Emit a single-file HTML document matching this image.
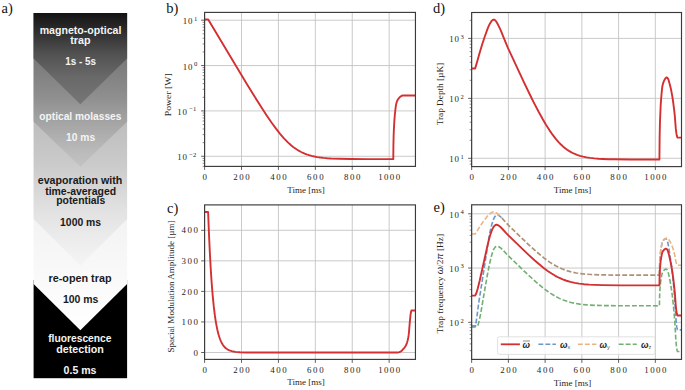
<!DOCTYPE html>
<html><head><meta charset="utf-8"><style>html,body{margin:0;padding:0;background:#fff;overflow:hidden}svg{display:block}</style></head><body>
<svg width="685" height="390" viewBox="0 0 685 390">
<rect width="685" height="390" fill="#fff"/>
<defs>
<clipPath id="clipb"><rect x="204.6" y="12.4" width="210.85" height="154.00"/></clipPath>
<clipPath id="clipc"><rect x="204.6" y="204.9" width="210.85" height="154.50"/></clipPath>
<clipPath id="clipd"><rect x="471.65" y="12.5" width="209.85" height="154.10"/></clipPath>
<clipPath id="clipe"><rect x="471.65" y="204.8" width="209.85" height="154.60"/></clipPath>
</defs>
<defs>
<linearGradient id="g1" x1="0" y1="13" x2="0" y2="104.3" gradientUnits="userSpaceOnUse"><stop offset="0.000" stop-color="#121212"/><stop offset="0.066" stop-color="#1c1c1c"/><stop offset="0.219" stop-color="#303030"/><stop offset="0.438" stop-color="#505050"/><stop offset="0.690" stop-color="#686868"/><stop offset="0.898" stop-color="#727272"/><stop offset="1.000" stop-color="#757575"/></linearGradient>
<linearGradient id="g2" x1="0" y1="58.5" x2="0" y2="166.5" gradientUnits="userSpaceOnUse"><stop offset="0.000" stop-color="#787878"/><stop offset="0.375" stop-color="#909090"/><stop offset="0.542" stop-color="#a0a0a0"/><stop offset="0.884" stop-color="#bcbcbc"/><stop offset="1.000" stop-color="#c2c2c2"/></linearGradient>
<linearGradient id="g3" x1="0" y1="121" x2="0" y2="265.6" gradientUnits="userSpaceOnUse"><stop offset="0.000" stop-color="#bdbdbd"/><stop offset="0.290" stop-color="#cacaca"/><stop offset="0.622" stop-color="#e2e2e2"/><stop offset="0.899" stop-color="#f0f0f0"/><stop offset="1.000" stop-color="#f4f4f4"/></linearGradient>
<linearGradient id="g4" x1="0" y1="219" x2="0" y2="330.3" gradientUnits="userSpaceOnUse"><stop offset="0.000" stop-color="#f3f3f3"/><stop offset="1.000" stop-color="#ffffff"/></linearGradient>
</defs>
<rect x="33.6" y="280" width="93.50" height="98.20" fill="#000"/>
<polygon points="33.60,13.00 127.10,13.00 127.10,284.00 80.35,330.30 33.60,284.00" fill="url(#g4)"/>
<polygon points="33.60,13.00 127.10,13.00 127.10,219.00 80.35,265.60 33.60,219.00" fill="url(#g3)"/>
<polygon points="33.60,13.00 127.10,13.00 127.10,121.80 80.35,166.80 33.60,121.80" fill="url(#g2)"/>
<polygon points="33.60,13.00 127.10,13.00 127.10,58.50 80.35,104.30 33.60,58.50" fill="url(#g1)"/>
<text x="80.55" y="34.00" font-family="'Liberation Sans', sans-serif" font-weight="bold" font-size="10.4" fill="#f4f4f4" text-anchor="middle" textLength="81.7" lengthAdjust="spacingAndGlyphs">magneto-optical</text>
<text x="80.35" y="44.00" font-family="'Liberation Sans', sans-serif" font-weight="bold" font-size="10.4" fill="#f4f4f4" text-anchor="middle" textLength="20.3" lengthAdjust="spacingAndGlyphs">trap</text>
<text x="80.55" y="65.30" font-family="'Liberation Sans', sans-serif" font-weight="bold" font-size="10.4" fill="#f4f4f4" text-anchor="middle" textLength="30.7" lengthAdjust="spacingAndGlyphs">1s - 5s</text>
<text x="80.35" y="119.70" font-family="'Liberation Sans', sans-serif" font-weight="bold" font-size="10.4" fill="#f4f4f4" text-anchor="middle" textLength="82.1" lengthAdjust="spacingAndGlyphs">optical molasses</text>
<text x="80.55" y="141.10" font-family="'Liberation Sans', sans-serif" font-weight="bold" font-size="10.4" fill="#f4f4f4" text-anchor="middle" textLength="29.1" lengthAdjust="spacingAndGlyphs">10 ms</text>
<text x="80.00" y="183.50" font-family="'Liberation Sans', sans-serif" font-weight="bold" font-size="10.4" fill="#1a1a1a" text-anchor="middle" textLength="84.4" lengthAdjust="spacingAndGlyphs">evaporation with</text>
<text x="80.65" y="194.60" font-family="'Liberation Sans', sans-serif" font-weight="bold" font-size="10.4" fill="#1a1a1a" text-anchor="middle" textLength="70.9" lengthAdjust="spacingAndGlyphs">time-averaged</text>
<text x="80.75" y="204.20" font-family="'Liberation Sans', sans-serif" font-weight="bold" font-size="10.4" fill="#1a1a1a" text-anchor="middle" textLength="49.1" lengthAdjust="spacingAndGlyphs">potentials</text>
<text x="80.60" y="225.70" font-family="'Liberation Sans', sans-serif" font-weight="bold" font-size="10.4" fill="#1a1a1a" text-anchor="middle" textLength="41.0" lengthAdjust="spacingAndGlyphs">1000 ms</text>
<text x="80.00" y="282.10" font-family="'Liberation Sans', sans-serif" font-weight="bold" font-size="10.4" fill="#1a1a1a" text-anchor="middle" textLength="63.0" lengthAdjust="spacingAndGlyphs">re-open trap</text>
<text x="80.65" y="303.10" font-family="'Liberation Sans', sans-serif" font-weight="bold" font-size="10.4" fill="#1a1a1a" text-anchor="middle" textLength="35.5" lengthAdjust="spacingAndGlyphs">100 ms</text>
<text x="79.85" y="342.20" font-family="'Liberation Sans', sans-serif" font-weight="bold" font-size="10.4" fill="#f4f4f4" text-anchor="middle" textLength="63.3" lengthAdjust="spacingAndGlyphs">fluorescence</text>
<text x="80.00" y="352.70" font-family="'Liberation Sans', sans-serif" font-weight="bold" font-size="10.4" fill="#f4f4f4" text-anchor="middle" textLength="47.6" lengthAdjust="spacingAndGlyphs">detection</text>
<text x="80.05" y="373.90" font-family="'Liberation Sans', sans-serif" font-weight="bold" font-size="10.4" fill="#f4f4f4" text-anchor="middle" textLength="32.9" lengthAdjust="spacingAndGlyphs">0.5 ms</text>
<text x="1.6" y="12.9" font-family="'Liberation Serif', serif" font-size="14.5" fill="#111">a)</text>
<text x="166.2" y="13.1" font-family="'Liberation Serif', serif" font-size="14.5" fill="#111">b)</text>
<text x="167.0" y="212.5" font-family="'Liberation Serif', serif" font-size="14.5" fill="#111">c)</text>
<text x="433.0" y="13.1" font-family="'Liberation Serif', serif" font-size="14.5" fill="#111">d)</text>
<text x="433.5" y="211.9" font-family="'Liberation Serif', serif" font-size="14.5" fill="#111">e)</text>
<line x1="204.60" y1="12.4" x2="204.60" y2="166.4" stroke="#c4c4c4" stroke-width="0.9"/>
<line x1="241.51" y1="12.4" x2="241.51" y2="166.4" stroke="#c4c4c4" stroke-width="0.9"/>
<line x1="278.42" y1="12.4" x2="278.42" y2="166.4" stroke="#c4c4c4" stroke-width="0.9"/>
<line x1="315.33" y1="12.4" x2="315.33" y2="166.4" stroke="#c4c4c4" stroke-width="0.9"/>
<line x1="352.24" y1="12.4" x2="352.24" y2="166.4" stroke="#c4c4c4" stroke-width="0.9"/>
<line x1="389.15" y1="12.4" x2="389.15" y2="166.4" stroke="#c4c4c4" stroke-width="0.9"/>
<line x1="204.6" y1="20.20" x2="415.45" y2="20.20" stroke="#c4c4c4" stroke-width="0.9"/>
<line x1="204.6" y1="65.56" x2="415.45" y2="65.56" stroke="#c4c4c4" stroke-width="0.9"/>
<line x1="204.6" y1="110.92" x2="415.45" y2="110.92" stroke="#c4c4c4" stroke-width="0.9"/>
<line x1="204.6" y1="156.28" x2="415.45" y2="156.28" stroke="#c4c4c4" stroke-width="0.9"/>
<path d="M204.60,19.52 L208.20,19.52 L238.00,69.35 L247.14,84.44 L254.43,96.30 L260.89,106.56 L266.52,115.18 L271.50,122.45 L276.02,128.66 L280.08,133.81 L283.96,138.29 L287.65,142.11 L289.49,143.84 L291.34,145.45 L293.18,146.94 L295.03,148.31 L296.88,149.56 L298.72,150.70 L300.66,151.77 L302.60,152.73 L304.63,153.62 L306.66,154.40 L309.06,155.19 L311.64,155.91 L314.41,156.55 L317.27,157.08 L320.31,157.53 L323.64,157.91 L327.23,158.23 L331.20,158.49 L339.69,158.82 L350.86,159.01 L365.99,159.10 L393.27,159.14 L393.41,146.10 L393.62,136.32 L393.84,130.31 L394.32,121.37 L394.84,114.75 L395.68,107.17 L396.13,104.28 L396.79,101.90 L397.25,100.75 L397.75,99.79 L398.40,98.80 L399.23,97.73 L399.80,97.13 L400.50,96.57 L401.87,95.72 L402.31,95.51 L402.62,95.45 L415.91,95.45" fill="none" stroke="#d43031" stroke-width="1.9" stroke-linejoin="round" clip-path="url(#clipb)"/>
<rect x="204.6" y="12.4" width="210.85" height="154.00" fill="none" stroke="#3a3a3a" stroke-width="1.15"/>
<line x1="204.60" y1="166.4" x2="204.60" y2="169.9" stroke="#3a3a3a" stroke-width="0.8"/>
<line x1="241.51" y1="166.4" x2="241.51" y2="169.9" stroke="#3a3a3a" stroke-width="0.8"/>
<line x1="278.42" y1="166.4" x2="278.42" y2="169.9" stroke="#3a3a3a" stroke-width="0.8"/>
<line x1="315.33" y1="166.4" x2="315.33" y2="169.9" stroke="#3a3a3a" stroke-width="0.8"/>
<line x1="352.24" y1="166.4" x2="352.24" y2="169.9" stroke="#3a3a3a" stroke-width="0.8"/>
<line x1="389.15" y1="166.4" x2="389.15" y2="169.9" stroke="#3a3a3a" stroke-width="0.8"/>
<line x1="201.1" y1="20.20" x2="204.6" y2="20.20" stroke="#3a3a3a" stroke-width="0.8"/>
<line x1="201.1" y1="65.56" x2="204.6" y2="65.56" stroke="#3a3a3a" stroke-width="0.8"/>
<line x1="201.1" y1="110.92" x2="204.6" y2="110.92" stroke="#3a3a3a" stroke-width="0.8"/>
<line x1="201.1" y1="156.28" x2="204.6" y2="156.28" stroke="#3a3a3a" stroke-width="0.8"/>
<line x1="202.6" y1="166.34" x2="204.6" y2="166.34" stroke="#3a3a3a" stroke-width="0.6"/>
<line x1="202.6" y1="163.31" x2="204.6" y2="163.31" stroke="#3a3a3a" stroke-width="0.6"/>
<line x1="202.6" y1="160.68" x2="204.6" y2="160.68" stroke="#3a3a3a" stroke-width="0.6"/>
<line x1="202.6" y1="158.36" x2="204.6" y2="158.36" stroke="#3a3a3a" stroke-width="0.6"/>
<line x1="202.6" y1="142.63" x2="204.6" y2="142.63" stroke="#3a3a3a" stroke-width="0.6"/>
<line x1="202.6" y1="134.64" x2="204.6" y2="134.64" stroke="#3a3a3a" stroke-width="0.6"/>
<line x1="202.6" y1="128.97" x2="204.6" y2="128.97" stroke="#3a3a3a" stroke-width="0.6"/>
<line x1="202.6" y1="124.57" x2="204.6" y2="124.57" stroke="#3a3a3a" stroke-width="0.6"/>
<line x1="202.6" y1="120.98" x2="204.6" y2="120.98" stroke="#3a3a3a" stroke-width="0.6"/>
<line x1="202.6" y1="117.95" x2="204.6" y2="117.95" stroke="#3a3a3a" stroke-width="0.6"/>
<line x1="202.6" y1="115.32" x2="204.6" y2="115.32" stroke="#3a3a3a" stroke-width="0.6"/>
<line x1="202.6" y1="113.00" x2="204.6" y2="113.00" stroke="#3a3a3a" stroke-width="0.6"/>
<line x1="202.6" y1="97.27" x2="204.6" y2="97.27" stroke="#3a3a3a" stroke-width="0.6"/>
<line x1="202.6" y1="89.28" x2="204.6" y2="89.28" stroke="#3a3a3a" stroke-width="0.6"/>
<line x1="202.6" y1="83.61" x2="204.6" y2="83.61" stroke="#3a3a3a" stroke-width="0.6"/>
<line x1="202.6" y1="79.21" x2="204.6" y2="79.21" stroke="#3a3a3a" stroke-width="0.6"/>
<line x1="202.6" y1="75.62" x2="204.6" y2="75.62" stroke="#3a3a3a" stroke-width="0.6"/>
<line x1="202.6" y1="72.59" x2="204.6" y2="72.59" stroke="#3a3a3a" stroke-width="0.6"/>
<line x1="202.6" y1="69.96" x2="204.6" y2="69.96" stroke="#3a3a3a" stroke-width="0.6"/>
<line x1="202.6" y1="67.64" x2="204.6" y2="67.64" stroke="#3a3a3a" stroke-width="0.6"/>
<line x1="202.6" y1="51.91" x2="204.6" y2="51.91" stroke="#3a3a3a" stroke-width="0.6"/>
<line x1="202.6" y1="43.92" x2="204.6" y2="43.92" stroke="#3a3a3a" stroke-width="0.6"/>
<line x1="202.6" y1="38.25" x2="204.6" y2="38.25" stroke="#3a3a3a" stroke-width="0.6"/>
<line x1="202.6" y1="33.85" x2="204.6" y2="33.85" stroke="#3a3a3a" stroke-width="0.6"/>
<line x1="202.6" y1="30.26" x2="204.6" y2="30.26" stroke="#3a3a3a" stroke-width="0.6"/>
<line x1="202.6" y1="27.23" x2="204.6" y2="27.23" stroke="#3a3a3a" stroke-width="0.6"/>
<line x1="202.6" y1="24.60" x2="204.6" y2="24.60" stroke="#3a3a3a" stroke-width="0.6"/>
<line x1="202.6" y1="22.28" x2="204.6" y2="22.28" stroke="#3a3a3a" stroke-width="0.6"/>
<text x="192.40" y="24.20" font-family="'Liberation Serif', serif" font-size="8.9" fill="#262626" stroke="#262626" stroke-width="0" text-anchor="end" textLength="9.6" lengthAdjust="spacing">10</text>
<text x="194.00" y="20.60" font-family="'Liberation Serif', serif" font-size="6.6" fill="#262626" stroke="#262626" stroke-width="0">1</text>
<text x="192.40" y="69.56" font-family="'Liberation Serif', serif" font-size="8.9" fill="#262626" stroke="#262626" stroke-width="0" text-anchor="end" textLength="9.6" lengthAdjust="spacing">10</text>
<text x="194.00" y="65.96" font-family="'Liberation Serif', serif" font-size="6.6" fill="#262626" stroke="#262626" stroke-width="0">0</text>
<text x="186.90" y="114.92" font-family="'Liberation Serif', serif" font-size="8.9" fill="#262626" stroke="#262626" stroke-width="0" text-anchor="end" textLength="9.6" lengthAdjust="spacing">10</text>
<text x="189.20" y="111.32" font-family="'Liberation Serif', serif" font-size="6.6" fill="#262626" stroke="#262626" stroke-width="0">−1</text>
<text x="186.90" y="160.28" font-family="'Liberation Serif', serif" font-size="8.9" fill="#262626" stroke="#262626" stroke-width="0" text-anchor="end" textLength="9.6" lengthAdjust="spacing">10</text>
<text x="189.20" y="156.68" font-family="'Liberation Serif', serif" font-size="6.6" fill="#262626" stroke="#262626" stroke-width="0">−2</text>
<text x="204.60" y="180.00" font-family="'Liberation Serif', serif" font-size="8.9" fill="#262626" stroke="#262626" stroke-width="0" text-anchor="middle" textLength="5.5" lengthAdjust="spacing">0</text>
<text x="241.51" y="180.00" font-family="'Liberation Serif', serif" font-size="8.9" fill="#262626" stroke="#262626" stroke-width="0" text-anchor="middle" textLength="16.5" lengthAdjust="spacing">200</text>
<text x="278.42" y="180.00" font-family="'Liberation Serif', serif" font-size="8.9" fill="#262626" stroke="#262626" stroke-width="0" text-anchor="middle" textLength="16.5" lengthAdjust="spacing">400</text>
<text x="315.33" y="180.00" font-family="'Liberation Serif', serif" font-size="8.9" fill="#262626" stroke="#262626" stroke-width="0" text-anchor="middle" textLength="16.5" lengthAdjust="spacing">600</text>
<text x="352.24" y="180.00" font-family="'Liberation Serif', serif" font-size="8.9" fill="#262626" stroke="#262626" stroke-width="0" text-anchor="middle" textLength="16.5" lengthAdjust="spacing">800</text>
<text x="389.15" y="180.00" font-family="'Liberation Serif', serif" font-size="8.9" fill="#262626" stroke="#262626" stroke-width="0" text-anchor="middle" textLength="22.0" lengthAdjust="spacing">1000</text>
<text x="306.00" y="192.50" font-family="'Liberation Serif', serif" font-size="9.2" fill="#262626" stroke="#262626" stroke-width="0" text-anchor="middle" textLength="37.5" lengthAdjust="spacingAndGlyphs">Time [ms]</text>
<text transform="translate(171.30,94.70) rotate(-90)" x="0" y="0" font-family="'Liberation Serif', serif" font-size="9.2" fill="#262626" stroke="#262626" stroke-width="0" text-anchor="middle" textLength="43.0" lengthAdjust="spacingAndGlyphs">Power [W]</text>
<line x1="204.60" y1="204.9" x2="204.60" y2="359.4" stroke="#c4c4c4" stroke-width="0.9"/>
<line x1="241.51" y1="204.9" x2="241.51" y2="359.4" stroke="#c4c4c4" stroke-width="0.9"/>
<line x1="278.42" y1="204.9" x2="278.42" y2="359.4" stroke="#c4c4c4" stroke-width="0.9"/>
<line x1="315.33" y1="204.9" x2="315.33" y2="359.4" stroke="#c4c4c4" stroke-width="0.9"/>
<line x1="352.24" y1="204.9" x2="352.24" y2="359.4" stroke="#c4c4c4" stroke-width="0.9"/>
<line x1="389.15" y1="204.9" x2="389.15" y2="359.4" stroke="#c4c4c4" stroke-width="0.9"/>
<line x1="204.6" y1="352.50" x2="415.45" y2="352.50" stroke="#c4c4c4" stroke-width="0.9"/>
<line x1="204.6" y1="321.95" x2="415.45" y2="321.95" stroke="#c4c4c4" stroke-width="0.9"/>
<line x1="204.6" y1="291.40" x2="415.45" y2="291.40" stroke="#c4c4c4" stroke-width="0.9"/>
<line x1="204.6" y1="260.85" x2="415.45" y2="260.85" stroke="#c4c4c4" stroke-width="0.9"/>
<line x1="204.6" y1="230.30" x2="415.45" y2="230.30" stroke="#c4c4c4" stroke-width="0.9"/>
<path d="M204.60,211.97 L208.11,211.97 L208.94,233.18 L209.77,251.19 L210.69,268.04 L211.61,282.08 L212.63,294.84 L213.74,306.14 L214.84,315.23 L215.49,319.69 L216.13,323.61 L217.24,329.27 L218.44,334.16 L219.73,338.28 L220.47,340.21 L221.21,341.87 L221.95,343.31 L222.78,344.70 L223.61,345.87 L224.53,346.98 L225.55,347.98 L226.56,348.80 L227.67,349.52 L228.87,350.15 L230.25,350.71 L231.82,351.19 L233.48,351.55 L235.42,351.85 L237.63,352.08 L240.13,352.24 L246.86,352.43 L264.12,352.50 L397.64,352.50 L398.34,352.42 L399.30,352.12 L400.58,351.56 L401.35,351.01 L402.25,350.18 L403.82,348.48 L404.80,347.24 L405.69,345.82 L406.46,344.22 L407.05,342.58 L407.63,340.49 L408.16,338.01 L408.66,335.15 L408.95,332.47 L409.69,323.35 L410.37,316.23 L410.69,313.72 L411.22,311.02 L411.43,310.53 L411.72,310.44 L415.91,310.43" fill="none" stroke="#d43031" stroke-width="1.9" stroke-linejoin="round" clip-path="url(#clipc)"/>
<rect x="204.6" y="204.9" width="210.85" height="154.50" fill="none" stroke="#3a3a3a" stroke-width="1.15"/>
<line x1="204.60" y1="359.4" x2="204.60" y2="362.9" stroke="#3a3a3a" stroke-width="0.8"/>
<line x1="241.51" y1="359.4" x2="241.51" y2="362.9" stroke="#3a3a3a" stroke-width="0.8"/>
<line x1="278.42" y1="359.4" x2="278.42" y2="362.9" stroke="#3a3a3a" stroke-width="0.8"/>
<line x1="315.33" y1="359.4" x2="315.33" y2="362.9" stroke="#3a3a3a" stroke-width="0.8"/>
<line x1="352.24" y1="359.4" x2="352.24" y2="362.9" stroke="#3a3a3a" stroke-width="0.8"/>
<line x1="389.15" y1="359.4" x2="389.15" y2="362.9" stroke="#3a3a3a" stroke-width="0.8"/>
<line x1="201.1" y1="352.50" x2="204.6" y2="352.50" stroke="#3a3a3a" stroke-width="0.8"/>
<line x1="201.1" y1="321.95" x2="204.6" y2="321.95" stroke="#3a3a3a" stroke-width="0.8"/>
<line x1="201.1" y1="291.40" x2="204.6" y2="291.40" stroke="#3a3a3a" stroke-width="0.8"/>
<line x1="201.1" y1="260.85" x2="204.6" y2="260.85" stroke="#3a3a3a" stroke-width="0.8"/>
<line x1="201.1" y1="230.30" x2="204.6" y2="230.30" stroke="#3a3a3a" stroke-width="0.8"/>
<text x="198.00" y="355.60" font-family="'Liberation Serif', serif" font-size="8.9" fill="#262626" stroke="#262626" stroke-width="0" text-anchor="end" textLength="5.5" lengthAdjust="spacing">0</text>
<text x="198.00" y="325.05" font-family="'Liberation Serif', serif" font-size="8.9" fill="#262626" stroke="#262626" stroke-width="0" text-anchor="end" textLength="16.5" lengthAdjust="spacing">100</text>
<text x="198.00" y="294.50" font-family="'Liberation Serif', serif" font-size="8.9" fill="#262626" stroke="#262626" stroke-width="0" text-anchor="end" textLength="16.5" lengthAdjust="spacing">200</text>
<text x="198.00" y="263.95" font-family="'Liberation Serif', serif" font-size="8.9" fill="#262626" stroke="#262626" stroke-width="0" text-anchor="end" textLength="16.5" lengthAdjust="spacing">300</text>
<text x="198.00" y="233.40" font-family="'Liberation Serif', serif" font-size="8.9" fill="#262626" stroke="#262626" stroke-width="0" text-anchor="end" textLength="16.5" lengthAdjust="spacing">400</text>
<text x="204.60" y="373.00" font-family="'Liberation Serif', serif" font-size="8.9" fill="#262626" stroke="#262626" stroke-width="0" text-anchor="middle" textLength="5.5" lengthAdjust="spacing">0</text>
<text x="241.51" y="373.00" font-family="'Liberation Serif', serif" font-size="8.9" fill="#262626" stroke="#262626" stroke-width="0" text-anchor="middle" textLength="16.5" lengthAdjust="spacing">200</text>
<text x="278.42" y="373.00" font-family="'Liberation Serif', serif" font-size="8.9" fill="#262626" stroke="#262626" stroke-width="0" text-anchor="middle" textLength="16.5" lengthAdjust="spacing">400</text>
<text x="315.33" y="373.00" font-family="'Liberation Serif', serif" font-size="8.9" fill="#262626" stroke="#262626" stroke-width="0" text-anchor="middle" textLength="16.5" lengthAdjust="spacing">600</text>
<text x="352.24" y="373.00" font-family="'Liberation Serif', serif" font-size="8.9" fill="#262626" stroke="#262626" stroke-width="0" text-anchor="middle" textLength="16.5" lengthAdjust="spacing">800</text>
<text x="389.15" y="373.00" font-family="'Liberation Serif', serif" font-size="8.9" fill="#262626" stroke="#262626" stroke-width="0" text-anchor="middle" textLength="22.0" lengthAdjust="spacing">1000</text>
<text x="306.00" y="385.20" font-family="'Liberation Serif', serif" font-size="9.2" fill="#262626" stroke="#262626" stroke-width="0" text-anchor="middle" textLength="37.5" lengthAdjust="spacingAndGlyphs">Time [ms]</text>
<text transform="translate(173.70,286.50) rotate(-90)" x="0" y="0" font-family="'Liberation Serif', serif" font-size="9.2" fill="#262626" stroke="#262626" stroke-width="0" text-anchor="middle" textLength="132.0" lengthAdjust="spacingAndGlyphs">Spacial Modulation Amplitude [µm]</text>
<line x1="471.65" y1="12.5" x2="471.65" y2="166.6" stroke="#c4c4c4" stroke-width="0.9"/>
<line x1="508.39" y1="12.5" x2="508.39" y2="166.6" stroke="#c4c4c4" stroke-width="0.9"/>
<line x1="545.12" y1="12.5" x2="545.12" y2="166.6" stroke="#c4c4c4" stroke-width="0.9"/>
<line x1="581.86" y1="12.5" x2="581.86" y2="166.6" stroke="#c4c4c4" stroke-width="0.9"/>
<line x1="618.59" y1="12.5" x2="618.59" y2="166.6" stroke="#c4c4c4" stroke-width="0.9"/>
<line x1="655.33" y1="12.5" x2="655.33" y2="166.6" stroke="#c4c4c4" stroke-width="0.9"/>
<line x1="471.65" y1="158.30" x2="681.5" y2="158.30" stroke="#c4c4c4" stroke-width="0.9"/>
<line x1="471.65" y1="98.35" x2="681.5" y2="98.35" stroke="#c4c4c4" stroke-width="0.9"/>
<line x1="471.65" y1="38.40" x2="681.5" y2="38.40" stroke="#c4c4c4" stroke-width="0.9"/>
<path d="M471.65,68.57 L475.14,68.57 L475.23,68.10 L476.52,63.90 L478.81,55.64 L482.30,44.07 L484.97,35.96 L487.45,29.12 L488.46,26.66 L489.37,24.67 L490.29,22.94 L491.12,21.64 L491.95,20.64 L492.77,19.95 L493.51,19.65 L493.87,19.64 L494.24,19.72 L494.70,19.95 L495.16,20.30 L495.62,20.78 L496.17,21.48 L497.27,23.26 L498.74,26.13 L499.84,28.46 L501.04,31.19 L505.81,42.93 L508.02,48.07 L523.63,81.56 L529.23,93.25 L534.10,103.07 L538.51,111.56 L542.64,119.08 L546.13,125.00 L549.53,130.34 L552.74,134.95 L555.96,139.09 L559.08,142.64 L560.64,144.24 L562.29,145.81 L563.86,147.18 L565.51,148.51 L567.16,149.72 L568.91,150.88 L571.48,152.38 L574.23,153.73 L577.08,154.87 L580.02,155.84 L583.14,156.66 L586.54,157.35 L590.21,157.92 L594.35,158.39 L598.48,158.72 L603.07,158.98 L608.40,159.18 L614.55,159.32 L630.25,159.47 L659.42,159.52 L659.64,136.74 L659.95,122.51 L660.63,106.31 L661.04,100.11 L661.61,93.26 L661.98,89.37 L662.27,87.03 L662.71,84.76 L663.24,82.80 L664.00,80.84 L665.02,78.94 L665.43,78.38 L665.81,77.96 L666.25,77.65 L666.64,77.51 L666.92,77.54 L667.17,77.66 L667.72,78.24 L668.24,79.17 L668.70,80.43 L669.74,84.18 L670.63,87.76 L671.43,91.55 L672.22,95.81 L673.18,102.01 L674.26,110.83 L674.83,116.07 L675.79,128.38 L676.36,133.15 L676.78,135.60 L677.22,137.08 L677.39,137.43 L677.53,137.58 L681.96,137.62" fill="none" stroke="#d43031" stroke-width="1.9" stroke-linejoin="round" clip-path="url(#clipd)"/>
<rect x="471.65" y="12.5" width="209.85" height="154.10" fill="none" stroke="#3a3a3a" stroke-width="1.15"/>
<line x1="471.65" y1="166.6" x2="471.65" y2="170.1" stroke="#3a3a3a" stroke-width="0.8"/>
<line x1="508.39" y1="166.6" x2="508.39" y2="170.1" stroke="#3a3a3a" stroke-width="0.8"/>
<line x1="545.12" y1="166.6" x2="545.12" y2="170.1" stroke="#3a3a3a" stroke-width="0.8"/>
<line x1="581.86" y1="166.6" x2="581.86" y2="170.1" stroke="#3a3a3a" stroke-width="0.8"/>
<line x1="618.59" y1="166.6" x2="618.59" y2="170.1" stroke="#3a3a3a" stroke-width="0.8"/>
<line x1="655.33" y1="166.6" x2="655.33" y2="170.1" stroke="#3a3a3a" stroke-width="0.8"/>
<line x1="468.15" y1="158.30" x2="471.65" y2="158.30" stroke="#3a3a3a" stroke-width="0.8"/>
<line x1="468.15" y1="98.35" x2="471.65" y2="98.35" stroke="#3a3a3a" stroke-width="0.8"/>
<line x1="468.15" y1="38.40" x2="471.65" y2="38.40" stroke="#3a3a3a" stroke-width="0.8"/>
<line x1="469.65" y1="164.11" x2="471.65" y2="164.11" stroke="#3a3a3a" stroke-width="0.6"/>
<line x1="469.65" y1="161.04" x2="471.65" y2="161.04" stroke="#3a3a3a" stroke-width="0.6"/>
<line x1="469.65" y1="140.25" x2="471.65" y2="140.25" stroke="#3a3a3a" stroke-width="0.6"/>
<line x1="469.65" y1="129.70" x2="471.65" y2="129.70" stroke="#3a3a3a" stroke-width="0.6"/>
<line x1="469.65" y1="122.21" x2="471.65" y2="122.21" stroke="#3a3a3a" stroke-width="0.6"/>
<line x1="469.65" y1="116.40" x2="471.65" y2="116.40" stroke="#3a3a3a" stroke-width="0.6"/>
<line x1="469.65" y1="111.65" x2="471.65" y2="111.65" stroke="#3a3a3a" stroke-width="0.6"/>
<line x1="469.65" y1="107.64" x2="471.65" y2="107.64" stroke="#3a3a3a" stroke-width="0.6"/>
<line x1="469.65" y1="104.16" x2="471.65" y2="104.16" stroke="#3a3a3a" stroke-width="0.6"/>
<line x1="469.65" y1="101.09" x2="471.65" y2="101.09" stroke="#3a3a3a" stroke-width="0.6"/>
<line x1="469.65" y1="80.30" x2="471.65" y2="80.30" stroke="#3a3a3a" stroke-width="0.6"/>
<line x1="469.65" y1="69.75" x2="471.65" y2="69.75" stroke="#3a3a3a" stroke-width="0.6"/>
<line x1="469.65" y1="62.26" x2="471.65" y2="62.26" stroke="#3a3a3a" stroke-width="0.6"/>
<line x1="469.65" y1="56.45" x2="471.65" y2="56.45" stroke="#3a3a3a" stroke-width="0.6"/>
<line x1="469.65" y1="51.70" x2="471.65" y2="51.70" stroke="#3a3a3a" stroke-width="0.6"/>
<line x1="469.65" y1="47.69" x2="471.65" y2="47.69" stroke="#3a3a3a" stroke-width="0.6"/>
<line x1="469.65" y1="44.21" x2="471.65" y2="44.21" stroke="#3a3a3a" stroke-width="0.6"/>
<line x1="469.65" y1="41.14" x2="471.65" y2="41.14" stroke="#3a3a3a" stroke-width="0.6"/>
<line x1="469.65" y1="20.35" x2="471.65" y2="20.35" stroke="#3a3a3a" stroke-width="0.6"/>
<text x="458.90" y="162.30" font-family="'Liberation Serif', serif" font-size="8.9" fill="#262626" stroke="#262626" stroke-width="0" text-anchor="end" textLength="9.6" lengthAdjust="spacing">10</text>
<text x="460.50" y="158.70" font-family="'Liberation Serif', serif" font-size="6.6" fill="#262626" stroke="#262626" stroke-width="0">1</text>
<text x="458.90" y="102.35" font-family="'Liberation Serif', serif" font-size="8.9" fill="#262626" stroke="#262626" stroke-width="0" text-anchor="end" textLength="9.6" lengthAdjust="spacing">10</text>
<text x="460.50" y="98.75" font-family="'Liberation Serif', serif" font-size="6.6" fill="#262626" stroke="#262626" stroke-width="0">2</text>
<text x="458.90" y="42.40" font-family="'Liberation Serif', serif" font-size="8.9" fill="#262626" stroke="#262626" stroke-width="0" text-anchor="end" textLength="9.6" lengthAdjust="spacing">10</text>
<text x="460.50" y="38.80" font-family="'Liberation Serif', serif" font-size="6.6" fill="#262626" stroke="#262626" stroke-width="0">3</text>
<text x="471.65" y="180.20" font-family="'Liberation Serif', serif" font-size="8.9" fill="#262626" stroke="#262626" stroke-width="0" text-anchor="middle" textLength="5.5" lengthAdjust="spacing">0</text>
<text x="508.39" y="180.20" font-family="'Liberation Serif', serif" font-size="8.9" fill="#262626" stroke="#262626" stroke-width="0" text-anchor="middle" textLength="16.5" lengthAdjust="spacing">200</text>
<text x="545.12" y="180.20" font-family="'Liberation Serif', serif" font-size="8.9" fill="#262626" stroke="#262626" stroke-width="0" text-anchor="middle" textLength="16.5" lengthAdjust="spacing">400</text>
<text x="581.86" y="180.20" font-family="'Liberation Serif', serif" font-size="8.9" fill="#262626" stroke="#262626" stroke-width="0" text-anchor="middle" textLength="16.5" lengthAdjust="spacing">600</text>
<text x="618.59" y="180.20" font-family="'Liberation Serif', serif" font-size="8.9" fill="#262626" stroke="#262626" stroke-width="0" text-anchor="middle" textLength="16.5" lengthAdjust="spacing">800</text>
<text x="655.33" y="180.20" font-family="'Liberation Serif', serif" font-size="8.9" fill="#262626" stroke="#262626" stroke-width="0" text-anchor="middle" textLength="22.0" lengthAdjust="spacing">1000</text>
<text x="572.60" y="192.90" font-family="'Liberation Serif', serif" font-size="9.2" fill="#262626" stroke="#262626" stroke-width="0" text-anchor="middle" textLength="37.5" lengthAdjust="spacingAndGlyphs">Time [ms]</text>
<text transform="translate(443.40,94.10) rotate(-90)" x="0" y="0" font-family="'Liberation Serif', serif" font-size="9.2" fill="#262626" stroke="#262626" stroke-width="0" text-anchor="middle" textLength="62.5" lengthAdjust="spacingAndGlyphs">Trap Depth [µK]</text>
<line x1="471.65" y1="204.8" x2="471.65" y2="359.4" stroke="#c4c4c4" stroke-width="0.9"/>
<line x1="508.39" y1="204.8" x2="508.39" y2="359.4" stroke="#c4c4c4" stroke-width="0.9"/>
<line x1="545.12" y1="204.8" x2="545.12" y2="359.4" stroke="#c4c4c4" stroke-width="0.9"/>
<line x1="581.86" y1="204.8" x2="581.86" y2="359.4" stroke="#c4c4c4" stroke-width="0.9"/>
<line x1="618.59" y1="204.8" x2="618.59" y2="359.4" stroke="#c4c4c4" stroke-width="0.9"/>
<line x1="655.33" y1="204.8" x2="655.33" y2="359.4" stroke="#c4c4c4" stroke-width="0.9"/>
<line x1="471.65" y1="322.30" x2="681.5" y2="322.30" stroke="#c4c4c4" stroke-width="0.9"/>
<line x1="471.65" y1="268.05" x2="681.5" y2="268.05" stroke="#c4c4c4" stroke-width="0.9"/>
<line x1="471.65" y1="213.80" x2="681.5" y2="213.80" stroke="#c4c4c4" stroke-width="0.9"/>
<path d="M471.65,325.88 L475.14,325.88 L475.32,325.70 L475.78,326.24 L476.15,326.52 L476.52,326.64 L476.79,326.59 L477.25,326.25 L477.62,325.71 L477.99,324.93 L478.35,323.91 L479.27,320.47 L480.28,315.57 L481.57,308.39 L485.43,285.79 L487.17,276.00 L489.10,266.04 L490.75,258.65 L491.58,255.50 L492.41,252.77 L493.23,250.50 L493.97,248.92 L494.79,247.62 L495.62,246.79 L496.08,246.51 L496.54,246.34 L497.00,246.27 L497.46,246.28 L498.28,246.49 L499.29,246.98 L500.21,247.59 L501.22,248.44 L502.87,250.04 L506.82,254.22 L508.94,256.34 L523.35,270.29 L530.52,277.04 L535.57,281.59 L540.07,285.44 L544.29,288.83 L548.24,291.74 L552.10,294.31 L555.77,296.49 L559.45,298.37 L563.21,300.00 L567.07,301.37 L571.02,302.49 L575.24,303.41 L579.74,304.13 L584.43,304.67 L589.66,305.08 L595.63,305.37 L602.79,305.58 L621.35,305.78 L659.42,305.83 L659.64,295.53 L659.95,289.09 L660.65,281.61 L661.06,278.84 L661.64,275.66 L662.01,273.94 L662.31,272.93 L662.82,271.80 L663.44,270.85 L664.27,269.98 L665.19,269.32 L665.54,269.19 L665.89,269.13 L666.29,269.18 L666.59,269.29 L666.88,269.53 L667.17,269.91 L667.76,271.14 L668.33,272.92 L668.92,275.38 L669.93,280.30 L670.75,284.89 L671.53,289.82 L672.30,295.48 L673.23,303.81 L674.34,316.05 L674.83,322.28 L675.79,338.97 L676.36,345.44 L676.78,348.76 L677.22,350.77 L677.39,351.25 L677.53,351.45 L677.90,351.51 L681.96,351.51" fill="none" stroke="#72b072" stroke-width="1.6" stroke-linejoin="round" stroke-dasharray="4.9,2.1" clip-path="url(#clipe)"/>
<path d="M471.65,326.96 L474.77,326.96 L474.96,326.89 L475.14,326.68 L475.78,324.02 L476.70,318.27 L478.81,302.33 L484.69,264.99 L488.18,241.95 L489.10,236.53 L489.93,232.23 L490.84,228.20 L491.85,224.32 L492.96,220.76 L493.97,218.25 L494.52,217.23 L495.16,216.26 L495.71,215.60 L496.26,215.15 L496.72,214.96 L497.27,214.97 L498.10,215.17 L498.93,215.53 L499.48,215.86 L500.03,216.29 L501.96,218.18" fill="none" stroke="#6a98c8" stroke-width="1.6" stroke-linejoin="round" stroke-dasharray="4.9,2.1" clip-path="url(#clipe)"/>
<path d="M471.65,234.03 L475.14,234.03 L476.52,231.92 L478.72,228.32 L480.93,224.98 L483.22,221.64 L485.24,218.92 L487.17,216.50 L488.73,214.79 L490.29,213.38 L491.67,212.48 L492.68,212.06 L493.69,211.89 L494.70,212.03 L495.71,212.45 L496.91,213.24 L498.28,214.40 L500.03,216.07 L501.96,218.12" fill="none" stroke="#ebb382" stroke-width="1.6" stroke-linejoin="round" stroke-dasharray="4.9,2.1" clip-path="url(#clipe)"/>
<path d="M501.96,218.15 L506.00,222.63 L508.39,225.15 L523.17,239.47 L528.22,244.26 L532.72,248.40 L536.76,251.98 L540.53,255.17 L543.83,257.82 L547.05,260.24 L550.08,262.35 L553.11,264.29 L556.05,265.99 L558.90,267.45 L561.83,268.79 L564.77,269.94 L567.53,270.86 L570.38,271.67 L573.31,272.37 L576.44,272.97 L579.74,273.48 L583.23,273.90 L587.00,274.24 L591.22,274.52 L600.22,274.87 L612.07,275.07 L628.60,275.16 L659.35,275.18" fill="none" stroke="#ae9277" stroke-width="1.7" stroke-linejoin="round" stroke-dasharray="4.9,2.1" clip-path="url(#clipe)"/>
<path d="M659.37,275.18 L659.42,275.18 L659.70,263.30 L660.01,257.71 L660.43,252.96 L660.74,250.26 L661.19,247.44 L661.88,243.85 L662.27,242.38 L662.88,241.05 L663.67,239.93 L664.60,239.06 L664.99,238.83 L665.32,238.71 L665.63,238.69 L665.94,238.77 L666.29,238.97 L666.55,239.21 L667.04,240.09 L667.56,241.68 L668.09,243.99 L669.40,251.68 L671.09,262.92 L672.55,274.69 L673.49,284.14 L674.70,298.55 L675.77,317.00 L676.34,323.58 L676.74,326.89 L677.20,329.05 L677.37,329.56 L677.53,329.80 L677.90,329.86 L681.96,329.86" fill="none" stroke="#6a98c8" stroke-width="1.6" stroke-linejoin="round" stroke-dasharray="4.9,2.1" clip-path="url(#clipe)"/>
<path d="M659.37,275.18 L659.42,275.18 L659.66,264.32 L659.90,259.23 L660.52,252.07 L661.13,247.76 L662.01,243.29 L662.27,242.38 L662.65,241.47 L663.21,240.52 L663.90,239.67 L664.90,238.82 L665.74,238.31 L666.49,238.09 L667.08,238.12 L667.76,238.43 L668.35,238.94 L668.97,239.82 L670.09,241.71 L670.88,243.23 L671.62,244.86 L672.78,247.88 L673.84,251.52 L674.80,255.33 L675.81,261.17 L676.39,263.37 L676.82,264.42 L677.24,265.05 L677.53,265.26 L681.96,265.27" fill="none" stroke="#ebb382" stroke-width="1.6" stroke-linejoin="round" stroke-dasharray="4.9,2.1" clip-path="url(#clipe)"/>
<path d="M471.65,295.63 L474.77,295.63 L475.14,295.53 L475.87,294.26 L476.52,292.71 L477.62,289.02 L479.73,280.55 L487.35,246.18 L488.73,240.42 L489.93,236.03 L490.75,233.42 L491.67,230.88 L492.50,228.92 L493.32,227.32 L494.15,226.13 L494.98,225.34 L495.80,224.89 L496.26,224.79 L496.63,224.78 L497.36,224.95 L498.28,225.38 L499.29,226.02 L500.21,226.77 L502.23,228.76 L506.18,233.07 L508.39,235.37 L522.62,249.15 L529.14,255.33 L534.47,260.18 L539.24,264.32 L543.65,267.90 L547.69,270.92 L551.55,273.53 L555.31,275.80 L558.99,277.72 L562.75,279.38 L566.52,280.76 L570.47,281.91 L574.69,282.87 L579.19,283.62 L583.88,284.18 L589.11,284.61 L595.17,284.92 L602.34,285.14 L620.98,285.35 L659.42,285.40 L659.64,275.09 L659.95,268.65 L660.63,261.32 L661.04,258.52 L661.61,255.42 L661.99,253.58 L662.29,252.55 L662.77,251.47 L663.35,250.54 L664.18,249.63 L665.12,248.93 L665.81,248.71 L666.51,248.84 L666.79,249.02 L667.04,249.31 L667.58,250.25 L668.13,251.70 L668.68,253.64 L669.82,258.44 L670.70,262.54 L671.51,266.79 L672.30,271.50 L673.25,278.32 L674.37,288.18 L674.83,292.73 L675.79,305.77 L676.36,310.82 L676.76,313.33 L677.22,314.97 L677.39,315.35 L677.53,315.50 L677.90,315.55 L681.96,315.55" fill="none" stroke="#d43031" stroke-width="1.9" stroke-linejoin="round" clip-path="url(#clipe)"/>
<rect x="471.65" y="204.8" width="209.85" height="154.60" fill="none" stroke="#3a3a3a" stroke-width="1.15"/>
<line x1="471.65" y1="359.4" x2="471.65" y2="362.9" stroke="#3a3a3a" stroke-width="0.8"/>
<line x1="508.39" y1="359.4" x2="508.39" y2="362.9" stroke="#3a3a3a" stroke-width="0.8"/>
<line x1="545.12" y1="359.4" x2="545.12" y2="362.9" stroke="#3a3a3a" stroke-width="0.8"/>
<line x1="581.86" y1="359.4" x2="581.86" y2="362.9" stroke="#3a3a3a" stroke-width="0.8"/>
<line x1="618.59" y1="359.4" x2="618.59" y2="362.9" stroke="#3a3a3a" stroke-width="0.8"/>
<line x1="655.33" y1="359.4" x2="655.33" y2="362.9" stroke="#3a3a3a" stroke-width="0.8"/>
<line x1="468.15" y1="322.30" x2="471.65" y2="322.30" stroke="#3a3a3a" stroke-width="0.8"/>
<line x1="468.15" y1="268.05" x2="471.65" y2="268.05" stroke="#3a3a3a" stroke-width="0.8"/>
<line x1="468.15" y1="213.80" x2="471.65" y2="213.80" stroke="#3a3a3a" stroke-width="0.8"/>
<line x1="469.65" y1="350.67" x2="471.65" y2="350.67" stroke="#3a3a3a" stroke-width="0.6"/>
<line x1="469.65" y1="343.89" x2="471.65" y2="343.89" stroke="#3a3a3a" stroke-width="0.6"/>
<line x1="469.65" y1="338.63" x2="471.65" y2="338.63" stroke="#3a3a3a" stroke-width="0.6"/>
<line x1="469.65" y1="334.34" x2="471.65" y2="334.34" stroke="#3a3a3a" stroke-width="0.6"/>
<line x1="469.65" y1="330.70" x2="471.65" y2="330.70" stroke="#3a3a3a" stroke-width="0.6"/>
<line x1="469.65" y1="327.56" x2="471.65" y2="327.56" stroke="#3a3a3a" stroke-width="0.6"/>
<line x1="469.65" y1="324.78" x2="471.65" y2="324.78" stroke="#3a3a3a" stroke-width="0.6"/>
<line x1="469.65" y1="305.97" x2="471.65" y2="305.97" stroke="#3a3a3a" stroke-width="0.6"/>
<line x1="469.65" y1="296.42" x2="471.65" y2="296.42" stroke="#3a3a3a" stroke-width="0.6"/>
<line x1="469.65" y1="289.64" x2="471.65" y2="289.64" stroke="#3a3a3a" stroke-width="0.6"/>
<line x1="469.65" y1="284.38" x2="471.65" y2="284.38" stroke="#3a3a3a" stroke-width="0.6"/>
<line x1="469.65" y1="280.09" x2="471.65" y2="280.09" stroke="#3a3a3a" stroke-width="0.6"/>
<line x1="469.65" y1="276.45" x2="471.65" y2="276.45" stroke="#3a3a3a" stroke-width="0.6"/>
<line x1="469.65" y1="273.31" x2="471.65" y2="273.31" stroke="#3a3a3a" stroke-width="0.6"/>
<line x1="469.65" y1="270.53" x2="471.65" y2="270.53" stroke="#3a3a3a" stroke-width="0.6"/>
<line x1="469.65" y1="251.72" x2="471.65" y2="251.72" stroke="#3a3a3a" stroke-width="0.6"/>
<line x1="469.65" y1="242.17" x2="471.65" y2="242.17" stroke="#3a3a3a" stroke-width="0.6"/>
<line x1="469.65" y1="235.39" x2="471.65" y2="235.39" stroke="#3a3a3a" stroke-width="0.6"/>
<line x1="469.65" y1="230.13" x2="471.65" y2="230.13" stroke="#3a3a3a" stroke-width="0.6"/>
<line x1="469.65" y1="225.84" x2="471.65" y2="225.84" stroke="#3a3a3a" stroke-width="0.6"/>
<line x1="469.65" y1="222.20" x2="471.65" y2="222.20" stroke="#3a3a3a" stroke-width="0.6"/>
<line x1="469.65" y1="219.06" x2="471.65" y2="219.06" stroke="#3a3a3a" stroke-width="0.6"/>
<line x1="469.65" y1="216.28" x2="471.65" y2="216.28" stroke="#3a3a3a" stroke-width="0.6"/>
<text x="458.90" y="326.30" font-family="'Liberation Serif', serif" font-size="8.9" fill="#262626" stroke="#262626" stroke-width="0" text-anchor="end" textLength="9.6" lengthAdjust="spacing">10</text>
<text x="460.50" y="322.70" font-family="'Liberation Serif', serif" font-size="6.6" fill="#262626" stroke="#262626" stroke-width="0">2</text>
<text x="458.90" y="272.05" font-family="'Liberation Serif', serif" font-size="8.9" fill="#262626" stroke="#262626" stroke-width="0" text-anchor="end" textLength="9.6" lengthAdjust="spacing">10</text>
<text x="460.50" y="268.45" font-family="'Liberation Serif', serif" font-size="6.6" fill="#262626" stroke="#262626" stroke-width="0">3</text>
<text x="458.90" y="217.80" font-family="'Liberation Serif', serif" font-size="8.9" fill="#262626" stroke="#262626" stroke-width="0" text-anchor="end" textLength="9.6" lengthAdjust="spacing">10</text>
<text x="460.50" y="214.20" font-family="'Liberation Serif', serif" font-size="6.6" fill="#262626" stroke="#262626" stroke-width="0">4</text>
<text x="471.65" y="373.00" font-family="'Liberation Serif', serif" font-size="8.9" fill="#262626" stroke="#262626" stroke-width="0" text-anchor="middle" textLength="5.5" lengthAdjust="spacing">0</text>
<text x="508.39" y="373.00" font-family="'Liberation Serif', serif" font-size="8.9" fill="#262626" stroke="#262626" stroke-width="0" text-anchor="middle" textLength="16.5" lengthAdjust="spacing">200</text>
<text x="545.12" y="373.00" font-family="'Liberation Serif', serif" font-size="8.9" fill="#262626" stroke="#262626" stroke-width="0" text-anchor="middle" textLength="16.5" lengthAdjust="spacing">400</text>
<text x="581.86" y="373.00" font-family="'Liberation Serif', serif" font-size="8.9" fill="#262626" stroke="#262626" stroke-width="0" text-anchor="middle" textLength="16.5" lengthAdjust="spacing">600</text>
<text x="618.59" y="373.00" font-family="'Liberation Serif', serif" font-size="8.9" fill="#262626" stroke="#262626" stroke-width="0" text-anchor="middle" textLength="16.5" lengthAdjust="spacing">800</text>
<text x="655.33" y="373.00" font-family="'Liberation Serif', serif" font-size="8.9" fill="#262626" stroke="#262626" stroke-width="0" text-anchor="middle" textLength="22.0" lengthAdjust="spacing">1000</text>
<text x="572.60" y="385.60" font-family="'Liberation Serif', serif" font-size="9.2" fill="#262626" stroke="#262626" stroke-width="0" text-anchor="middle" textLength="37.5" lengthAdjust="spacingAndGlyphs">Time [ms]</text>
<text transform="translate(442.9,283.7) rotate(-90)" font-family="'Liberation Serif', serif" font-size="9.2" fill="#262626" stroke="#262626" stroke-width="0" text-anchor="middle" textLength="99.5" lengthAdjust="spacingAndGlyphs">Trap frequency <tspan font-family="'Liberation Sans', sans-serif" font-style="italic">ω</tspan>/2<tspan font-family="'Liberation Sans', sans-serif" font-style="italic">π</tspan> [Hz]</text>
<rect x="497.6" y="336.8" width="157.4" height="17.6" rx="1.8" fill="#fff" fill-opacity="0.8" stroke="#d9d9d9" stroke-width="0.8"/>
<line x1="500.8" y1="344.3" x2="519.9" y2="344.3" stroke="#d43031" stroke-width="1.8"/>
<text x="522.4" y="347.5" font-family="'Liberation Sans', sans-serif" font-style="italic" font-weight="bold" font-size="9.0" fill="#2a2a2a">ω</text>
<line x1="522.9" y1="341.0" x2="530.0" y2="341.0" stroke="#555" stroke-width="0.65"/>
<line x1="538.4" y1="344.3" x2="555.9" y2="344.3" stroke="#6a98c8" stroke-width="1.6" stroke-dasharray="4.9,2.1"/>
<text x="560.0" y="347.5" font-family="'Liberation Sans', sans-serif" font-style="italic" font-weight="bold" font-size="9.0" fill="#2a2a2a">ω<tspan font-size="5.6" dy="1.6" font-style="normal" font-weight="normal" fill="#555">x</tspan></text>
<line x1="577.9" y1="344.3" x2="596.3" y2="344.3" stroke="#ebb382" stroke-width="1.6" stroke-dasharray="4.9,2.1"/>
<text x="599.6" y="347.5" font-family="'Liberation Sans', sans-serif" font-style="italic" font-weight="bold" font-size="9.0" fill="#2a2a2a">ω<tspan font-size="5.6" dy="1.6" font-style="normal" font-weight="normal" fill="#555">y</tspan></text>
<line x1="618.7" y1="344.3" x2="636.8" y2="344.3" stroke="#72b072" stroke-width="1.6" stroke-dasharray="4.9,2.1"/>
<text x="641.0" y="347.5" font-family="'Liberation Sans', sans-serif" font-style="italic" font-weight="bold" font-size="9.0" fill="#2a2a2a">ω<tspan font-size="5.6" dy="1.6" font-style="normal" font-weight="normal" fill="#555">z</tspan></text>
</svg>
</body></html>
